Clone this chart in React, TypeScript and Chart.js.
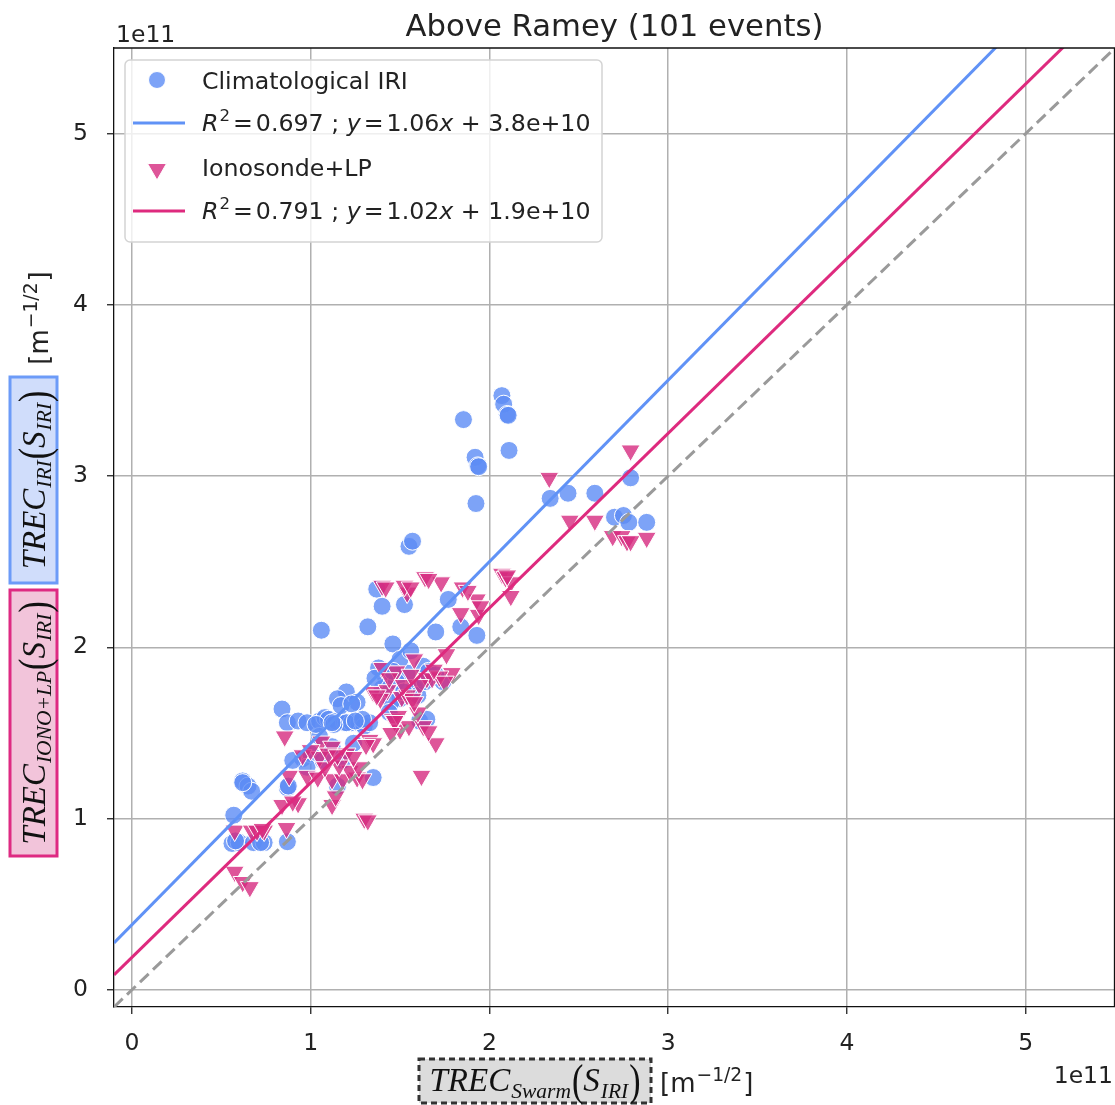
import React, { useEffect, useRef } from 'react';
import { Chart, registerables } from 'chart.js';

Chart.register(...registerables);

// Values are stored in units of 1e11 m^-1/2
const SCALE = 1e11;
const tickValues = [0, 1, 2, 3, 4, 5];
const axisMin = -0.1;
const axisMax = 5.5;

// Climatological IRI: Swarm TREC (x) against IRI TREC (y)
const iriX = [
  1.855, 2.07, 2.08, 2.10, 2.105, 2.11, 1.92, 1.935, 1.94, 1.925,
  1.55, 1.57, 2.34, 2.44, 2.59, 2.79, 2.70, 2.75, 2.78, 2.88,
  1.37, 1.40, 1.525, 1.06, 1.32, 1.70, 1.77, 1.84, 1.93, 1.46,
  1.63, 1.54, 1.74, 1.50, 1.20, 1.15, 1.26, 0.84, 0.87, 0.93,
  0.98, 1.05, 1.08, 1.10, 1.145, 1.19, 1.23, 1.27, 1.30, 1.61,
  1.65, 1.20, 1.42, 1.58, 1.45, 1.66, 0.955, 0.62, 0.65, 0.67,
  0.87, 0.875, 0.57, 0.56, 0.60, 0.68, 0.74, 0.87, 1.35, 1.15,
  1.12, 1.00, 0.98, 1.24, 1.05, 1.17, 1.23, 1.38, 1.50, 1.60,
  1.70, 0.58, 0.72, 1.13, 1.33, 1.03, 1.40, 1.48, 1.36, 1.56,
  1.29, 0.90, 1.18, 1.44, 1.12, 1.25, 1.52, 1.64, 0.62, 1.07,
  1.46,
];
const iriY = [
  3.33, 3.47, 3.42, 3.36, 3.355, 3.15, 3.11, 3.06, 3.055, 2.84,
  2.59, 2.62, 2.87, 2.90, 2.90, 2.99, 2.76, 2.77, 2.73, 2.73,
  2.34, 2.24, 2.25, 2.10, 2.12, 2.09, 2.28, 2.12, 2.07, 2.02,
  1.89, 1.85, 1.80, 1.70, 1.74, 1.70, 1.68, 1.64, 1.56, 1.57,
  1.56, 1.57, 1.59, 1.58, 1.57, 1.56, 1.56, 1.56, 1.54, 1.57,
  1.58, 1.56, 1.82, 1.76, 1.68, 1.86, 1.35, 1.22, 1.19, 1.16,
  1.18, 1.19, 1.02, 0.855, 0.86, 0.86, 0.86, 0.865, 1.24, 1.19,
  1.42, 1.38, 1.30, 1.44, 1.48, 1.66, 1.67, 1.88, 1.93, 1.72,
  1.84, 0.87, 0.86, 1.55, 1.56, 1.55, 1.76, 1.80, 1.82, 1.98,
  1.58, 1.34, 1.34, 1.62, 1.56, 1.57, 1.74, 1.80, 1.21, 1.34,
  1.86,
];

// Ionosonde+LP: Swarm TREC (x) against Ionosonde+LP TREC (y)
const ionoX = [
  2.335, 2.79, 2.45, 2.59, 2.69, 2.74, 2.77, 2.79, 2.88, 2.07,
  2.09, 2.12, 2.12, 1.93, 1.84, 1.94, 1.85, 1.73, 1.64, 1.66,
  1.54, 1.525, 1.40, 1.56, 1.95, 1.58, 1.48, 1.40, 1.65, 1.68,
  1.76, 1.79, 1.35, 1.43, 1.51, 1.54, 1.61, 1.46, 1.50, 1.55,
  1.63, 1.70, 1.62, 1.33, 1.57, 1.72, 1.49, 0.855, 0.955, 1.06,
  1.12, 1.20, 1.05, 0.88, 0.98, 1.04, 1.12, 1.18, 1.26, 1.29,
  0.84, 0.93, 1.12, 1.30, 1.32, 0.575, 0.67, 0.70, 0.74, 0.865,
  0.575, 0.62, 0.66, 1.47, 1.22, 1.16, 1.27, 1.08, 1.00, 1.35,
  1.24, 1.39, 1.44, 1.60, 1.66, 1.52, 1.75, 1.45, 1.14, 1.10,
  0.73, 2.10, 1.88, 1.42, 1.69, 1.58, 1.37, 1.31, 0.90, 1.15,
  1.56,
];
const ionoY = [
  2.99, 3.15, 2.74, 2.74, 2.65, 2.65, 2.62, 2.62, 2.64, 2.43,
  2.41, 2.38, 2.30, 2.28, 2.20, 2.19, 2.35, 2.38, 2.41, 2.40,
  2.32, 2.36, 2.36, 2.35, 2.24, 1.93, 1.86, 1.88, 1.82, 1.82,
  1.96, 1.85, 1.74, 1.75, 1.71, 1.72, 1.78, 1.58, 1.52, 1.54,
  1.54, 1.44, 1.25, 1.46, 1.70, 1.83, 1.60, 1.48, 1.37, 1.45,
  1.42, 1.38, 1.36, 1.25, 1.25, 1.24, 1.23, 1.23, 1.24, 1.23,
  1.08, 1.09, 1.08, 1.00, 0.99, 0.93, 0.93, 0.93, 0.93, 0.945,
  0.69, 0.63, 0.60, 1.57, 1.28, 1.31, 1.30, 1.30, 1.40, 1.44,
  1.36, 1.70, 1.82, 1.62, 1.51, 1.78, 1.80, 1.50, 1.13, 1.38,
  0.94, 2.42, 2.33, 2.35, 1.87, 1.68, 1.72, 1.43, 1.10, 1.37,
  1.84,
];

// Linear fits quoted in the legend
const fitIri = { r2: '0.697', slope: 1.06, slopeText: '1.06', intercept: 3.8e10, interceptText: '3.8e+10' };
const fitIono = { r2: '0.791', slope: 1.02, slopeText: '1.02', intercept: 1.9e10, interceptText: '1.9e+10' };

const BLUE_FILL = 'rgba(92, 140, 245, 0.8)';
const BLUE_LINE = '#6092f6';
const PINK_FILL = 'rgba(214, 42, 128, 0.8)';
const PINK_LINE = '#de2a7e';

const SANS = '"DejaVu Sans"';
const SERIF = '"Liberation Serif"';

type Seg = { t: string; font: string; dy?: number; dx?: number; sy?: number };

function richWidth(ctx: CanvasRenderingContext2D, segs: Seg[]) {
  let w = 0;
  for (const s of segs) {
    ctx.font = s.font;
    w += ctx.measureText(s.t).width + (s.dx || 0);
  }
  return w;
}

function drawRich(ctx: CanvasRenderingContext2D, segs: Seg[], x: number, y: number) {
  let cx = x;
  for (const s of segs) {
    ctx.font = s.font;
    cx += s.dx || 0;
    if (s.sy) {
      // vertically stretched glyph (tall delimiters)
      ctx.save();
      ctx.translate(cx, y + (s.dy || 0));
      ctx.scale(1, s.sy);
      ctx.fillText(s.t, 0, 0);
      ctx.restore();
    } else {
      ctx.fillText(s.t, cx, y + (s.dy || 0));
    }
    cx += ctx.measureText(s.t).width;
  }
  return cx;
}

function fitLabel(fit: typeof fitIri): Seg[] {
  const f = 23.7;
  const reg = `${f}px ${SANS}`;
  const it = `italic ${f}px ${SANS}`;
  return [
    { t: 'R', font: it },
    { t: '2', font: `${f * 0.7}px ${SANS}`, dy: -10, dx: 1 },
    { t: '=', font: reg, dx: 3 },
    { t: fit.r2 + ' ; ', font: reg, dx: 3 },
    { t: 'y', font: it },
    { t: '=', font: reg, dx: 3 },
    { t: fit.slopeText, font: reg, dx: 3 },
    { t: 'x', font: it },
    { t: ' + ' + fit.interceptText, font: reg },
  ];
}

function trecLabel(sub: string, main: number, small: number, paren: number, subDy: number): Seg[] {
  return [
    { t: 'TREC', font: `italic ${main}px ${SERIF}` },
    { t: sub, font: `italic ${small}px ${SERIF}`, dy: subDy, dx: 1 },
    { t: '(', font: `${paren}px ${SERIF}`, dy: 4, dx: 1, sy: 1.3 },
    { t: 'S', font: `italic ${main}px ${SERIF}` },
    { t: 'IRI', font: `italic ${small}px ${SERIF}`, dy: subDy, dx: 1 },
    { t: ')', font: `${paren}px ${SERIF}`, dy: 4, dx: 1, sy: 1.3 },
  ];
}

function unitLabel(f: number): Seg[] {
  return [
    { t: '[m', font: `${f}px ${SANS}` },
    { t: '\u22121/2', font: `${f * 0.72}px ${SANS}`, dy: -11, dx: 1 },
    { t: ']', font: `${f}px ${SANS}`, dx: 1 },
  ];
}

function markerCircle(ctx: CanvasRenderingContext2D, x: number, y: number, r: number) {
  ctx.beginPath();
  ctx.arc(x, y, r, 0, Math.PI * 2);
  ctx.fillStyle = BLUE_FILL;
  ctx.fill();
  ctx.strokeStyle = '#ffffff';
  ctx.lineWidth = 1;
  ctx.stroke();
}

function markerTriangleDown(ctx: CanvasRenderingContext2D, x: number, y: number, r: number) {
  ctx.beginPath();
  for (let i = 0; i < 3; i++) {
    const a = Math.PI + (i * 2 * Math.PI) / 3;
    const px = x + Math.sin(a) * r;
    const py = y - Math.cos(a) * r;
    if (i === 0) ctx.moveTo(px, py);
    else ctx.lineTo(px, py);
  }
  ctx.closePath();
  ctx.fillStyle = PINK_FILL;
  ctx.fill();
  ctx.strokeStyle = '#ffffff';
  ctx.lineWidth = 1;
  ctx.stroke();
}

function roundRect(ctx: CanvasRenderingContext2D, x: number, y: number, w: number, h: number, r: number) {
  ctx.beginPath();
  ctx.moveTo(x + r, y);
  ctx.lineTo(x + w - r, y);
  ctx.arcTo(x + w, y, x + w, y + r, r);
  ctx.lineTo(x + w, y + h - r);
  ctx.arcTo(x + w, y + h, x + w - r, y + h, r);
  ctx.lineTo(x + r, y + h);
  ctx.arcTo(x, y + h, x, y + h - r, r);
  ctx.lineTo(x, y + r);
  ctx.arcTo(x, y, x + r, y, r);
  ctx.closePath();
}

const decorations = {
  id: 'decorations',
  afterDraw(chart: Chart) {
    const ctx = chart.ctx;
    const a = chart.chartArea;
    ctx.save();

    // top and right spines
    ctx.strokeStyle = '#111';
    ctx.lineWidth = 1.3;
    ctx.beginPath();
    ctx.moveTo(a.left, a.top);
    ctx.lineTo(a.right - 0.5, a.top);
    ctx.lineTo(a.right - 0.5, a.bottom);
    ctx.stroke();

    ctx.fillStyle = '#222';
    ctx.textBaseline = 'alphabetic';

    // title
    ctx.font = `30.7px ${SANS}`;
    ctx.textAlign = 'center';
    ctx.fillText('Above Ramey (101 events)', (a.left + a.right) / 2, 36);

    // offset texts
    ctx.font = `23.5px ${SANS}`;
    ctx.textAlign = 'left';
    ctx.fillText('1e11', a.left + 2, 42);
    ctx.textAlign = 'right';
    ctx.fillText('1e11', 1113, 1083);
    ctx.textAlign = 'left';

    // legend
    ctx.fillStyle = 'rgba(255,255,255,0.8)';
    roundRect(ctx, 125, 60, 477, 182, 5);
    ctx.fill();
    ctx.strokeStyle = '#d4d4d4';
    ctx.lineWidth = 1.5;
    ctx.stroke();

    markerCircle(ctx, 157, 80, 8.5);
    ctx.strokeStyle = BLUE_LINE;
    ctx.lineWidth = 3;
    ctx.beginPath();
    ctx.moveTo(133, 123);
    ctx.lineTo(185, 123);
    ctx.stroke();
    markerTriangleDown(ctx, 157, 169, 11);
    ctx.strokeStyle = PINK_LINE;
    ctx.lineWidth = 3;
    ctx.beginPath();
    ctx.moveTo(133, 211);
    ctx.lineTo(185, 211);
    ctx.stroke();

    ctx.fillStyle = '#222';
    ctx.font = `23.7px ${SANS}`;
    ctx.fillText('Climatological IRI', 202, 89);
    drawRich(ctx, fitLabel(fitIri), 202, 131);
    ctx.font = `23.7px ${SANS}`;
    ctx.fillText('Ionosonde+LP', 202, 176);
    drawRich(ctx, fitLabel(fitIono), 202, 219);

    // x-axis label
    ctx.fillStyle = '#dcdcdc';
    ctx.fillRect(419, 1059, 232, 44);
    ctx.setLineDash([6, 4]);
    ctx.strokeStyle = '#333';
    ctx.lineWidth = 3;
    ctx.strokeRect(419, 1059, 232, 44);
    ctx.setLineDash([]);
    const xl = trecLabel('Swarm', 33, 21.5, 34, 7);
    const xw = richWidth(ctx, xl);
    ctx.fillStyle = '#111';
    drawRich(ctx, xl, 419 + (232 - xw) / 2, 1091);
    ctx.fillStyle = '#222';
    drawRich(ctx, unitLabel(26), 660, 1092);

    // y-axis labels (rotated)
    const vbox = (cx: number, cy: number, len: number, fill: string, stroke: string, segs: Seg[]) => {
      ctx.save();
      ctx.translate(cx, cy);
      ctx.rotate(-Math.PI / 2);
      ctx.fillStyle = fill;
      ctx.fillRect(-len / 2, -23.5, len, 47);
      ctx.strokeStyle = stroke;
      ctx.lineWidth = 3;
      ctx.strokeRect(-len / 2, -23.5, len, 47);
      const w = richWidth(ctx, segs);
      ctx.fillStyle = '#111';
      drawRich(ctx, segs, -w / 2, 11);
      ctx.restore();
    };
    vbox(33.5, 480, 206, '#d0ddfb', '#6c9bf8', trecLabel('IRI', 33, 21.5, 34, 6));
    vbox(33.5, 723, 266, '#f2c4da', '#de2a82', trecLabel('IONO+LP', 33, 21.5, 34, 6));

    ctx.save();
    ctx.translate(38, 318);
    ctx.rotate(-Math.PI / 2);
    const u = unitLabel(26);
    const uw = richWidth(ctx, u);
    ctx.fillStyle = '#222';
    drawRich(ctx, u, -uw / 2, 10);
    ctx.restore();

    ctx.restore();
  },
};

function toPoints(xs: number[], ys: number[]) {
  return xs.map((x, i) => ({ x: x * SCALE, y: ys[i] * SCALE }));
}

function fitPoints(fit: typeof fitIri) {
  return [axisMin, axisMax].map((x) => ({ x: x * SCALE, y: fit.slope * x * SCALE + fit.intercept }));
}

function axisOptions(isX: boolean) {
  return {
    type: 'linear' as const,
    min: axisMin * SCALE,
    max: axisMax * SCALE,
    afterBuildTicks: (s: any) => {
      s.ticks = tickValues.map((v) => ({ value: v * SCALE }));
    },
    afterFit: (s: any) => {
      if (isX) s.height = 98;
      else s.width = 114;
    },
    ticks: {
      callback: (v: any) => String(Math.round(Number(v) / SCALE)),
      font: { family: 'DejaVu Sans', size: 23.5 },
      color: '#222',
      padding: isX ? 16 : 19,
      maxRotation: 0,
      autoSkip: false,
    },
    grid: {
      color: '#b0b0b0',
      lineWidth: 1.5,
      tickLength: 7,
      tickColor: '#222',
      tickWidth: 1.3,
    },
    border: { color: '#111', width: 1.3 },
  };
}

export default function App() {
  const ref = useRef<HTMLCanvasElement | null>(null);

  useEffect(() => {
    if (!ref.current) return;
    const chart = new Chart(ref.current, {
      type: 'scatter',
      data: {
        datasets: [
          {
            label: 'identity',
            data: [
              { x: axisMin * SCALE, y: axisMin * SCALE },
              { x: axisMax * SCALE, y: axisMax * SCALE },
            ],
            showLine: true,
            borderColor: '#9a9a9a',
            borderWidth: 3,
            borderDash: [12, 6],
            pointRadius: 0,
            order: 0,
          },
          {
            label: 'fit IRI',
            data: fitPoints(fitIri),
            showLine: true,
            borderColor: BLUE_LINE,
            borderWidth: 3,
            pointRadius: 0,
            order: 0,
          },
          {
            label: 'fit Ionosonde+LP',
            data: fitPoints(fitIono),
            showLine: true,
            borderColor: PINK_LINE,
            borderWidth: 3,
            pointRadius: 0,
            order: 0,
          },
          {
            label: 'Ionosonde+LP',
            data: toPoints(ionoX, ionoY),
            pointStyle: 'triangle',
            rotation: 180,
            pointRadius: 11,
            backgroundColor: PINK_FILL,
            borderColor: '#ffffff',
            borderWidth: 1,
            order: 1,
          },
          {
            label: 'Climatological IRI',
            data: toPoints(iriX, iriY),
            pointStyle: 'circle',
            pointRadius: 9,
            backgroundColor: BLUE_FILL,
            borderColor: '#ffffff',
            borderWidth: 1,
            order: 2,
          },
        ],
      },
      options: {
        animation: false,
        responsive: false,
        devicePixelRatio: 1,
        events: [],
        layout: { autoPadding: false, padding: { top: 48, right: 0, left: 0, bottom: 0 } },
        plugins: {
          legend: { display: false },
          tooltip: { enabled: false },
          title: { display: false },
        },
        scales: {
          x: axisOptions(true),
          y: axisOptions(false),
        },
      },
      plugins: [decorations],
    });
    return () => chart.destroy();
  }, []);

  return (
    <div style={{ position: 'fixed', left: 0, top: 0, width: 1115, height: 1105, background: '#fff' }}>
      <canvas ref={ref} width={1115} height={1105} style={{ display: 'block', width: 1115, height: 1105 }} />
    </div>
  );
}
